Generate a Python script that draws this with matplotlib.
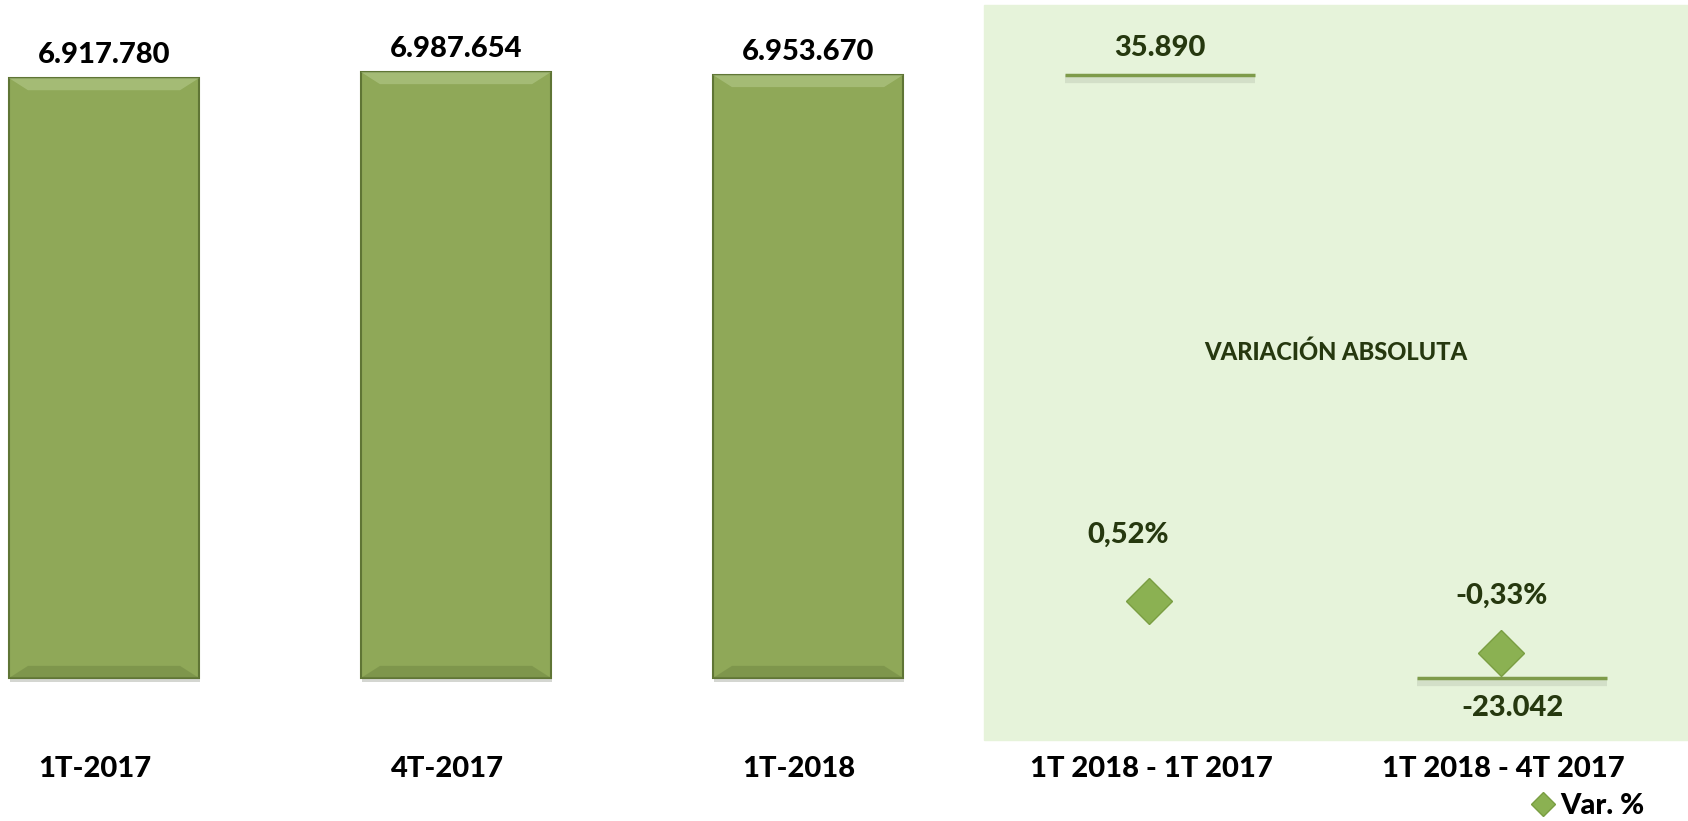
import matplotlib
matplotlib.use('Agg')
import matplotlib.pyplot as plt
import matplotlib.patheffects as pe
from matplotlib.patches import Polygon
import numpy as np

# Data
periods = ['1T-2017', '4T-2017', '1T-2018']
totals = [6917780, 6987654, 6953670]
var_labels = ['1T 2018 - 1T 2017', '1T 2018 - 4T 2017']
var_abs = [35890, -23042]
var_pct = [0.52, -0.33]

def es_num(v):
    s = f"{abs(v):,}".replace(',', '.')
    return ('-' if v < 0 else '') + s

def es_pct(v):
    return f"{v:.2f}".replace('.', ',') + '%'

plt.rcParams['font.family'] = ['Lato', 'DejaVu Sans']
W = 'black'

bar_col = '#8FA858'
edge_col = '#5F7535'
shade_col = '#E6F3DA'
dark_txt = '#26380F'

fig = plt.figure(figsize=(16.88, 8.21), dpi=100)
ax = fig.add_axes([0, 0, 1, 1])
ax.set_xlim(-0.2955, 4.5)
ax.set_ylim(-1649000, 7818000)
ax.axis('off')

# shaded area for variations
ax.axvspan(2.5, 4.6, ymin=0.099, ymax=0.994, color=shade_col, zorder=0)

x = np.arange(len(periods))
bars = ax.bar(x, totals, width=0.54, color=bar_col, edgecolor=edge_col, linewidth=1.5, zorder=2)
for b in bars:
    b.set_path_effects([pe.SimplePatchShadow(offset=(1, -3), alpha=0.2), pe.Normal()])
    # bevel: lighter top band, darker bottom band
    x0, w, h = b.get_x(), b.get_width(), b.get_height()
    dx, dy = w * 0.1, 140000
    ax.add_patch(Polygon([(x0, h), (x0 + w, h), (x0 + w - dx, h - dy), (x0 + dx, h - dy)],
                         closed=True, color='#B3C98A', alpha=0.6, lw=0, zorder=3))
    ax.add_patch(Polygon([(x0, 0), (x0 + w, 0), (x0 + w - dx, dy), (x0 + dx, dy)],
                         closed=True, color='#6F8642', alpha=0.5, lw=0, zorder=3))
for xi, v in zip(x, totals):
    ax.annotate(es_num(v), (xi, v), xytext=(0, 7), textcoords='offset points',
                ha='center', va='bottom', fontsize=21, fontweight=W, color='black')

# category labels
xv = np.arange(len(periods), len(periods) + len(var_labels))
for xi, lab in zip(list(x) + list(xv), periods + var_labels):
    ax.text(xi - 0.025, -1050000, lab, ha='center', va='center', fontsize=21,
            fontweight=W, color='black')

ax.text(3.5, 3760000, 'VARIACIÓN ABSOLUTA', ha='center', va='center', fontsize=17,
        fontweight=W, color=dark_txt)

# absolute variations on secondary scale
ax2 = ax.twinx()
ax2.set_position([0, 0, 1, 1])
ax2.set_xlim(ax.get_xlim())
ax2.set_ylim(-37017, 43220)
ax2.axis('off')
ax2.hlines(var_abs, xv - 0.27, xv + 0.27, color='#7E9B4A', linewidth=2.5,
           path_effects=[pe.SimpleLineShadow(offset=(0, -3), alpha=0.08, linewidth=6), pe.Normal()])
for xi, v in zip(xv, var_abs):
    off = 10 if v >= 0 else -12
    ax2.annotate(es_num(v), (xi, v), xytext=(0, off), textcoords='offset points',
                 ha='center', va='bottom' if v >= 0 else 'top', fontsize=21,
                 fontweight=W, color=dark_txt)

# percent variations on third scale
ax3 = ax.twinx()
ax3.set_position([0, 0, 1, 1])
ax3.set_xlim(ax.get_xlim())
ax3.set_ylim(-3.033, 10.21)
ax3.axis('off')
ax3.plot(xv - 0.03, var_pct, linestyle='none', marker='D', markersize=23,
         markerfacecolor='#8BB152', markeredgecolor='#7A9E42', label='Var. %')
for xi, v, dx in zip(xv, var_pct, [-0.06, 0.0]):
    ax3.annotate(es_pct(v), (xi - 0.03 + dx, v), xytext=(0, 38 if v >= 0 else 32),
                 textcoords='offset points', ha='center', va='bottom', fontsize=21,
                 fontweight=W, color=dark_txt)

leg = ax3.legend(loc='center', bbox_to_anchor=(0.94, 0.018), frameon=False,
                 prop={'size': 21, 'weight': W}, handletextpad=0.1, markerscale=0.55,
                 handlelength=1)

fig.savefig('out.png', dpi=100)
